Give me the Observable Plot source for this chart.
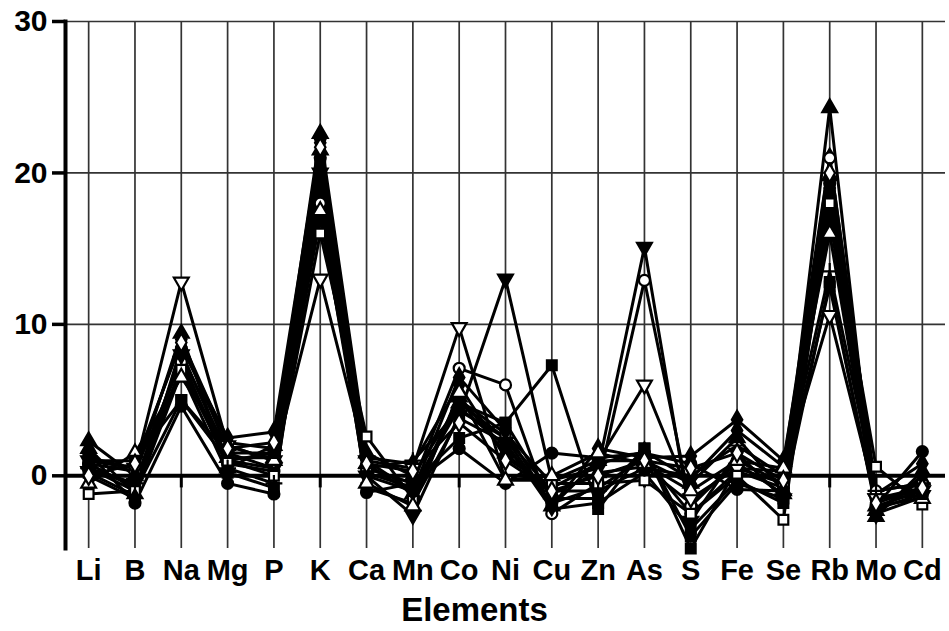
<!DOCTYPE html>
<html>
<head>
<meta charset="utf-8">
<script src="https://cdn.jsdelivr.net/npm/d3@7"></script>
<script src="https://cdn.jsdelivr.net/npm/@observablehq/plot@0.6"></script>
<style>
  html, body { margin: 0; padding: 0; background: #fff; }
  #chart { width: 949px; height: 631px; }
</style>
</head>
<body>
<div id="chart"></div>
<script>
const elements = ["Li","B","Na","Mg","P","K","Ca","Mn","Co","Ni","Cu","Zn","As","S","Fe","Se","Rb","Mo","Cd"];
const yTicks = [0, 10, 20, 30];
const xTitle = "Elements";

// one array per sample series
const squareFilled   = [0.5, -1.0, 5.0, 1.0, 0.5, 17.0, 0.5, -0.5, 2.5, 3.5, 7.3, -2.2, 1.8, -4.8, 0.5, -0.5, 12.5, -2.0, -1.0];
const circleOpen     = [0.8, 0.3, 7.5, 1.0, 1.5, 18.0, 0.5, -0.5, 7.1, 6.0, -2.5, -0.5, 12.9, -2.0, 1.0, -0.5, 21.0, -1.0, -0.5];
const triDownFilled  = [0.3, -0.5, 8.0, 1.5, 0.5, 20.0, 0.0, -2.6, 4.0, 13.0, -0.3, 0.5, 15.1, -3.0, 1.5, -1.5, 17.0, -1.5, -1.3];
const triDownOpen    = [1.0, 0.5, 12.8, 2.0, 1.0, 13.0, 1.0, 0.5, 9.8, -0.3, -0.3, 1.0, 6.0, -1.5, 0.5, 0.3, 10.6, -1.5, -1.0];
const triUpFilled    = [2.3, 0.0, 9.4, 0.5, 2.0, 22.6, 1.5, 0.0, 4.8, 2.5, -2.0, 1.0, 1.0, -0.5, 2.5, -1.0, 24.3, -2.7, 0.3];
const circleFilled   = [1.5, -1.8, 4.6, -0.5, -1.2, 21.0, -1.1, -0.5, 1.8, -0.5, 1.5, 1.2, 1.5, 0.8, -0.9, -1.0, 19.3, -2.0, 1.6];
const squareOpen     = [-1.2, -1.0, 7.0, 1.0, 0.0, 16.0, 2.6, -1.5, 5.0, 2.8, -0.5, -0.5, -0.3, -2.5, 0.0, -2.9, 18.0, 0.6, -1.9];
const diamondFilled  = [0.0, -1.5, 8.5, 2.5, 2.9, 22.0, 0.0, -1.0, 6.5, 3.0, -2.0, 1.8, 1.2, 1.3, 3.7, 1.0, 19.0, -2.5, 0.0];
const plusSeries     = [0.5, -0.5, 7.8, 0.5, -0.5, 19.0, 0.5, 1.0, 4.3, 2.5, -1.0, -1.0, 0.5, 0.0, 2.0, 0.0, 13.5, -1.0, -0.5];
const triUpOpen      = [-0.5, 1.5, 6.5, 2.0, 1.0, 17.5, -0.5, -2.0, 5.5, -0.3, 0.0, 1.5, 0.8, -1.0, 1.0, 0.5, 16.0, -2.0, -1.5];
const squareFilled2  = [1.0, 1.0, 5.0, 1.5, 1.5, 20.5, 1.0, -1.0, 4.8, 3.5, -1.5, -1.5, 1.8, -4.0, -0.5, -1.5, 12.8, -2.2, -1.2];
const diamondOpen    = [0.0, 0.8, 8.8, 1.8, 2.2, 21.7, 0.8, 0.3, 3.5, 1.0, -1.0, 0.0, 1.0, 0.5, 1.5, -0.3, 20.0, -1.8, -0.8];
const circleFilled2  = [0.8, -0.8, 7.2, 0.8, 0.3, 19.5, 0.2, -0.8, 4.5, 2.0, -1.8, -0.8, 1.2, -2.5, 0.3, -0.8, 18.5, -1.5, -0.8];
const triUpFilled2   = [1.8, -1.2, 8.2, 1.2, 1.2, 21.5, 0.8, -1.2, 5.2, 1.5, -1.2, 0.2, 0.6, -1.8, 0.8, -1.2, 19.8, -2.3, -0.3];
const squareFilled3  = [0.2, -1.3, 6.8, 0.2, -0.8, 18.5, -0.8, -1.8, 3.8, 2.2, -2.2, -1.8, 0.2, -3.5, -0.3, -1.8, 17.5, -2.5, -1.4];
const diamondFilled2 = [1.2, 0.5, 9.0, 2.2, 1.8, 22.2, 1.2, 0.8, 6.0, 1.2, -0.8, 0.8, 1.6, -0.2, 3.0, 0.6, 21.0, -1.2, 0.8];

const triangleDown = {
  draw(context, size) {
    const y = -Math.sqrt(size / (Math.sqrt(3) * 3));
    context.moveTo(0, -y * 2);
    context.lineTo(-Math.sqrt(3) * y, y);
    context.lineTo(Math.sqrt(3) * y, y);
    context.closePath();
  }
};

const seriesDefs = [
  {name: "circleFilled2", values: circleFilled2, symbol: "circle", fill: "black"},
  {name: "triUpFilled2", values: triUpFilled2, symbol: "triangle", fill: "black"},
  {name: "squareFilled3", values: squareFilled3, symbol: "square", fill: "black"},
  {name: "diamondFilled2", values: diamondFilled2, symbol: "diamond", fill: "black"},
  {name: "squareFilled", values: squareFilled, symbol: "square", fill: "black"},
  {name: "circleOpen", values: circleOpen, symbol: "circle", fill: "white"},
  {name: "triDownFilled", values: triDownFilled, symbol: triangleDown, fill: "black"},
  {name: "triDownOpen", values: triDownOpen, symbol: triangleDown, fill: "white"},
  {name: "triUpFilled", values: triUpFilled, symbol: "triangle", fill: "black"},
  {name: "circleFilled", values: circleFilled, symbol: "circle", fill: "black"},
  {name: "squareOpen", values: squareOpen, symbol: "square", fill: "white"},
  {name: "diamondFilled", values: diamondFilled, symbol: "diamond", fill: "black"},
  {name: "plus", values: plusSeries, symbol: "plus", fill: "black"},
  {name: "triUpOpen", values: triUpOpen, symbol: "triangle", fill: "white"},
  {name: "squareFilled2", values: squareFilled2, symbol: "square", fill: "black"},
  {name: "diamondOpen", values: diamondOpen, symbol: "diamond", fill: "white"}
];

const rows = seriesDefs.flatMap(s => s.values.map((v, i) => ({series: s.name, element: elements[i], value: v})));

const dotMarks = seriesDefs.map(s => Plot.dot(rows.filter(r => r.series === s.name), {
  x: "element", y: "value", symbol: s.symbol, r: 5.5, fill: s.fill, stroke: "black", strokeWidth: 2.2
}));

const chart = Plot.plot({
  width: 949,
  height: 631,
  marginTop: 21,
  marginBottom: 83,
  marginLeft: 65,
  marginRight: 4,
  style: {fontFamily: "'Liberation Sans', Arial, sans-serif", background: "white", color: "black"},
  x: {type: "point", domain: elements, padding: 0.5, round: false},
  y: {domain: [-4.8, 30]},
  marks: [
    Plot.gridX(elements, {stroke: "#333", strokeOpacity: 1, strokeWidth: 1.7}),
    Plot.gridY([10, 20, 30], {stroke: "#333", strokeOpacity: 1, strokeWidth: 1.7}),
    Plot.ruleX(elements, {x: d => d, y1: 0, y2: -0.8, stroke: "black", strokeWidth: 3}),
    Plot.ruleY([0], {stroke: "black", strokeWidth: 4}),
    Plot.frame({anchor: "left", stroke: "black", strokeWidth: 4}),
    Plot.axisY({ticks: yTicks, tickSize: 13, tickPadding: 5, tickFormat: d => String(d), fontSize: 30, fontWeight: "bold", strokeWidth: 3.5, label: null}),
    Plot.axisX({tickSize: 0, tickPadding: 11, fontSize: 29, fontWeight: "bold", label: null}),
    Plot.text([xTitle], {text: d => d, frameAnchor: "bottom", dx: -31, dy: 72, fontSize: 33, fontWeight: "bold", lineAnchor: "bottom"}),
    Plot.line(rows, {x: "element", y: "value", z: "series", stroke: "black", strokeWidth: 3}),
    ...dotMarks
  ]
});
document.getElementById("chart").appendChild(chart);
</script>
</body>
</html>
